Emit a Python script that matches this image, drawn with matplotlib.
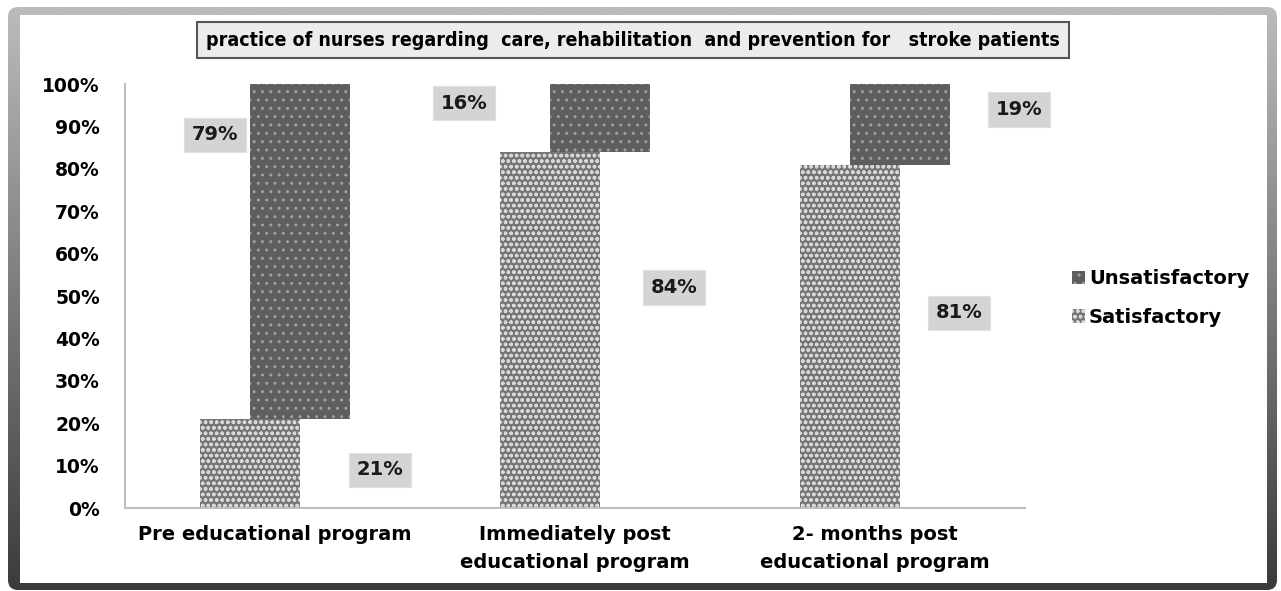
import matplotlib
matplotlib.use("Agg")
import matplotlib.pyplot as plt
import numpy as np
from matplotlib.patches import FancyBboxPatch, Rectangle

categories = ["Pre educational program",
              "Immediately post\neducational program",
              "2- months post\neducational program"]
satisfactory = [21, 84, 81]
unsatisfactory = [79, 16, 19]
title = "practice of nurses regarding  care, rehabilitation  and prevention for   stroke patients"

# label offsets (x in category units, y in %) - layout only
sat_lbl_pos = [(0.35, 9), (1.33, 52), (2.28, 46)]
uns_lbl_pos = [(-0.2, 88), (0.63, 95.5), (2.48, 94)]

W, H = 1281, 591
fig = plt.figure(figsize=(W / 100, H / 100), dpi=100)
fig.patch.set_facecolor("white")

# outer frame with vertical gray gradient
bg = fig.add_axes([0, 0, 1, 1], zorder=-5)
bg.set_xlim(0, W)
bg.set_ylim(0, H)
bg.axis("off")
grad = np.linspace(0.23, 0.74, 256).reshape(-1, 1)
im = bg.imshow(grad, cmap="gray", vmin=0, vmax=1, aspect="auto",
               extent=[0, W, 0, H], origin="lower")
frame = FancyBboxPatch((8, 1), W - 12, H - 8, boxstyle="round,pad=0,rounding_size=10",
                       transform=bg.transData, facecolor="none", edgecolor="none")
bg.add_patch(frame)
im.set_clip_path(frame)
bg.add_patch(Rectangle((20, 8), W - 34, H - 23, facecolor="white", edgecolor="none"))

ax = fig.add_axes([125 / W, (H - 508) / H, 900 / W, 424 / H])
x = np.arange(len(categories))
bw = 0.333
plt.rcParams["hatch.linewidth"] = 1.0

ax.bar(x - bw / 4, satisfactory, bw, color="#767676", edgecolor="#d8d8d8",
       hatch="ooo", linewidth=0, label="Satisfactory", zorder=2)
ax.bar(x + bw / 4, unsatisfactory, bw, bottom=satisfactory, color="#5e5e5e",
       edgecolor="#a0a0a0", hatch="..", linewidth=0, label="Unsatisfactory", zorder=3)

box = dict(boxstyle="square,pad=0.4", facecolor="#d4d4d4", edgecolor="#e0e0e0", lw=0.8)
for v, (px, py) in zip(satisfactory, sat_lbl_pos):
    ax.text(px, py, f"{v}%", ha="center", va="center", fontsize=14,
            fontweight="bold", color="#1a1a1a", bbox=box, zorder=5)
for v, (px, py) in zip(unsatisfactory, uns_lbl_pos):
    ax.text(px, py, f"{v}%", ha="center", va="center", fontsize=14,
            fontweight="bold", color="#1a1a1a", bbox=box, zorder=5)

ax.set_xlim(-0.5, 2.5)
ax.set_ylim(0, 100)
ax.set_yticks(np.arange(0, 101, 10))
ax.set_yticklabels([f"{t}%" for t in range(0, 101, 10)], fontsize=13.5, fontweight="bold")
ax.set_xticks(x)
ax.set_xticklabels(categories, fontsize=14, fontweight="bold", linespacing=1.6)
ax.tick_params(axis="y", length=0, pad=18)
ax.tick_params(axis="x", length=0, pad=12)
for s in ("top", "right"):
    ax.spines[s].set_visible(False)
for s in ("left", "bottom"):
    ax.spines[s].set_color("#bdbdbd")
    ax.spines[s].set_linewidth(1.5)

h, l = ax.get_legend_handles_labels()
fig.legend(h[::-1], l[::-1], loc="center left", bbox_to_anchor=(1054 / W, 1 - 298 / H),
           frameon=False, prop={"weight": "bold", "size": 14}, handlelength=0.7,
           handleheight=0.7, handletextpad=0.2, labelspacing=1.0)

fig.text(633 / W, 1 - 40 / H, title, ha="center", va="center", fontsize=14,
         fontweight="bold", family="DejaVu Sans", fontstretch="condensed",
         bbox=dict(boxstyle="square,pad=0.45", facecolor="#ececec",
                   edgecolor="#555555", lw=1.5))

fig.savefig("out.png", dpi=100)
